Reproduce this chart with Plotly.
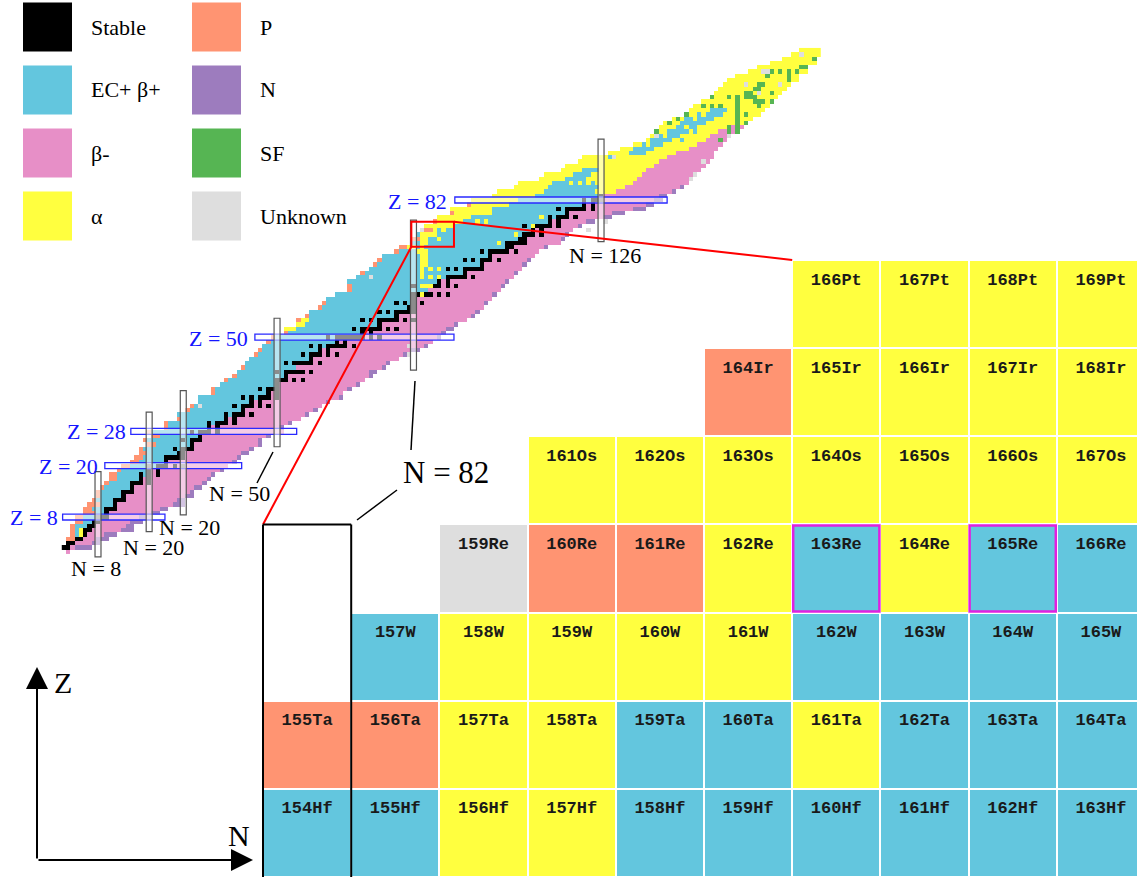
import plotly.graph_objects as go

# ---------------- data ----------------
MODES = ["Stable", "EC+ β+", "β-", "α", "P", "N", "SF", "Unknown"]
COLORS = ["#000000", "#63C6DE", "#E78FC7", "#FFFF3F", "#FF9472", "#9D7CBE", "#56B553", "#DEDEDE"]

# per proton number Z = 0..117 : first / last neutron number present in the chart
N_FIRST = [1, 0, 1, 1, 2, 2, 2, 3, 3, 5,
           5, 6, 7, 8, 8, 9, 10, 11, 11, 13,
           14, 16, 17, 18, 18, 20, 19, 21, 20, 24,
           24, 27, 27, 29, 30, 32, 32, 35, 35, 37,
           38, 40, 41, 42, 43, 44, 45, 46, 47, 48,
           49, 52, 52, 55, 55, 57, 58, 60, 61, 62,
           64, 67, 67, 67, 69, 70, 72, 73, 74, 75,
           78, 79, 82, 82, 83, 84, 85, 87, 88, 91,
           91, 95, 96, 101, 102, 106, 107, 112, 113, 117,
           118, 121, 122, 128, 131, 134, 137, 138, 139, 140,
           141, 143, 146, 147, 148, 150, 152, 153, 154, 155,
           156, 158, 161, 163, 166, 169, 171, 173]
N_LAST = [1, 6, 8, 10, 12, 16, 16, 18, 20, 22,
          24, 28, 28, 30, 30, 32, 33, 34, 35, 37,
          38, 40, 41, 43, 44, 46, 46, 48, 51, 51,
          53, 55, 57, 59, 60, 62, 65, 65, 67, 69,
          70, 72, 73, 75, 76, 78, 80, 83, 85, 86,
          88, 89, 91, 92, 94, 96, 97, 98, 99, 100,
          101, 102, 103, 104, 105, 106, 107, 108, 109, 110,
          111, 113, 116, 117, 118, 119, 121, 124, 128, 131,
          136, 138, 140, 141, 143, 145, 146, 147, 148, 149,
          150, 151, 152, 152, 153, 154, 155, 156, 157, 159,
          160, 161, 163, 164, 165, 166, 167, 168, 169, 170,
          172, 172, 174, 174, 176, 176, 177, 177]
# proton emitters at the proton-rich edge (count)
P_EDGE = [0, 0, 0, 2, 1, 1, 1, 2, 2, 3,
          2, 3, 1, 1, 1, 1, 1, 2, 2, 1,
          2, 2, 2, 2, 1, 2, 1, 2, 1, 1,
          1, 1, 0, 1, 1, 0, 0, 1, 1, 0,
          1, 1, 0, 1, 0, 0, 1, 1, 0, 1,
          1, 1, 0, 0, 1, 1, 0, 1, 1, 0,
          0, 1, 1, 0, 0, 1, 0, 1, 1, 0,
          1, 2, 0, 2, 0, 3, 0, 1, 0, 1,
          0, 1, 0]
# alpha emitters following them at the proton-rich edge (count), Z < 83
A_EDGE = [0] * 52 + [3, 2, 2] + [0] * 16 + [2, 0, 2, 0, 1, 7, 6, 8, 9, 10, 9, 11]
# first neutron number of the beta-minus region
BM_START = [0, 2, 3, 5, 6, 7, 8, 9, 11, 11,
            13, 13, 15, 15, 17, 17, 19, 19, 21, 21,
            25, 25, 29, 29, 31, 31, 33, 33, 35, 35,
            39, 39, 43, 43, 45, 45, 49, 49, 51, 51,
            53, 53, 57, 55, 59, 59, 61, 61, 67, 65,
            71, 71, 75, 75, 79, 79, 83, 83, 83, 83,
            87, 86, 89, 89, 95, 95, 99, 99, 101, 101,
            105, 106, 109, 109, 111, 111, 115, 115, 119, 119,
            123, 123, 127, 127, 130, 132, 134, 135, 136, 137,
            139, 140, 142, 144, 147, 149, 151, 152, 154, 156] + [999] * 18
# neutron emitters at the neutron-rich edge (count)
N_EDGE = [0, 4, 2, 3, 3, 3, 2, 3, 3, 2,
          2, 3, 2, 2, 1, 2, 1, 1, 1, 1,
          0, 1, 1, 2, 1, 1, 1, 1, 0, 1,
          1, 0, 1, 1, 0, 1, 1, 0, 1, 1,
          0, 1, 2, 1, 1, 0, 1, 2, 1, 0,
          1, 1, 2, 1, 0, 1, 1, 0, 1, 0,
          1, 0, 1, 1, 0, 1, 0, 1, 1, 0,
          0, 1, 0, 1, 1, 0, 1, 2, 2, 3,
          3, 2, 2, 2, 1, 1] + [0] * 32
STABLE = {
    1: [0, 1], 2: [1, 2], 3: [3, 4], 4: [5], 5: [5, 6], 6: [6, 7], 7: [7, 8], 8: [8, 9, 10],
    9: [10], 10: [10, 11, 12], 11: [12], 12: [12, 13, 14], 13: [14], 14: [14, 15, 16], 15: [16],
    16: [16, 17, 18, 20], 17: [18, 20], 18: [18, 20, 22], 19: [20, 22], 20: [20, 22, 23, 24, 26, 28],
    21: [24], 22: [24, 25, 26, 27, 28], 23: [27, 28], 24: [26, 28, 29, 30], 25: [30],
    26: [28, 30, 31, 32], 27: [32], 28: [30, 32, 33, 34, 36], 29: [34, 36], 30: [34, 36, 37, 38, 40],
    31: [38, 40], 32: [38, 40, 41, 42, 44], 33: [42], 34: [40, 42, 43, 44, 46, 48], 35: [44, 46],
    36: [42, 44, 46, 47, 48, 50], 37: [48, 50], 38: [46, 48, 49, 50], 39: [50],
    40: [50, 51, 52, 54, 56], 41: [52], 42: [50, 52, 53, 54, 55, 56, 58],
    44: [52, 54, 55, 56, 57, 58, 60], 45: [58], 46: [56, 58, 59, 60, 62, 64], 47: [60, 62],
    48: [58, 60, 62, 63, 64, 65, 66, 68], 49: [64, 66], 50: [62, 64, 65, 66, 67, 68, 69, 70, 72, 74],
    51: [70, 72], 52: [68, 70, 71, 72, 73, 74, 76, 78], 53: [74],
    54: [70, 72, 74, 75, 76, 77, 78, 80, 82], 55: [78], 56: [74, 76, 78, 79, 80, 81, 82],
    57: [81, 82], 58: [78, 80, 82, 84], 59: [82], 60: [82, 83, 84, 85, 86, 88, 90],
    62: [82, 85, 86, 87, 88, 90, 92], 63: [88, 90], 64: [88, 90, 91, 92, 93, 94, 96], 65: [94],
    66: [90, 92, 94, 95, 96, 97, 98], 67: [98], 68: [94, 96, 98, 99, 100, 102], 69: [100],
    70: [98, 100, 101, 102, 103, 104, 106], 71: [104, 105], 72: [102, 104, 105, 106, 107, 108],
    73: [107, 108], 74: [106, 108, 109, 110, 112], 75: [110, 112],
    76: [108, 110, 111, 112, 113, 114, 116], 77: [114, 116], 78: [112, 114, 116, 117, 118, 120],
    79: [118], 80: [116, 118, 119, 120, 121, 122, 124], 81: [122, 124], 82: [122, 124, 125, 126],
    83: [126],
}
# EC band inside the heavy (Z >= 83) alpha region: Z -> (first N, last N)
HEAVY_EC_BAND = {83: (111, 125), 84: (113, 124), 85: (114, 125), 86: (115, 124), 87: (118, 122),
                 88: (120, 123), 89: (122, 125), 93: (133, 136), 94: (134, 138), 95: (136, 140),
                 96: (138, 142), 97: (140, 144), 98: (142, 146), 99: (144, 148), 100: (145, 150),
                 101: (146, 152), 102: (149, 154), 103: (152, 155)}
ALPHA_DOTS = [(4, 4), (5, 4), (60, 84), (62, 84), (62, 85), (62, 86), (64, 84), (64, 86), (64, 88),
              (65, 84), (66, 84), (66, 86), (66, 88), (67, 84), (67, 85), (68, 84), (68, 85), (69, 84),
              (69, 85), (70, 83), (70, 84), (70, 85), (71, 84), (72, 84), (72, 85), (73, 88), (74, 84),
              (74, 85), (74, 86), (74, 87), (75, 89), (77, 97), (77, 99), (72, 102), (74, 106),
              (76, 110), (78, 112), (86, 119), (86, 121), (86, 123), (97, 141), (99, 146),
              (101, 148), (102, 150), (95, 137)]
EC_DOTS = [(92, 128), (93, 135), (96, 145), (98, 148)]
SF_DOTS = [(115, 176), (113, 173), (113, 174), (112, 166), (112, 168), (111, 170), (112, 170),
           (112, 172), (111, 165), (110, 170), (108, 163), (109, 163), (108, 162), (109, 164),
           (107, 166), (106, 160), (105, 162), (105, 164), (105, 166), (105, 163), (104, 163),
           (98, 158), (99, 158), (100, 158), (101, 158), (102, 158), (103, 158), (104, 158),
           (105, 158), (106, 158), (106, 156), (106, 152), (104, 150), (104, 154), (104, 152),
           (101, 144), (100, 142), (98, 139), (102, 146), (100, 160), (102, 160), (96, 154),
           (98, 156), (99, 156), (107, 160), (107, 161), (106, 161), (106, 162)]
UNKNOWN_DOTS = [(75, 84), (34, 32), (64, 72), (48, 81), (46, 81), (116, 173), (112, 164),
                (112, 165), (109, 160), (107, 163), (109, 168), (97, 139), (92, 129), (91, 150),
                (88, 148), (87, 147), (97, 156), (77, 127), (75, 123)]

# zoomed window of the chart
GRID_Z = [72, 73, 74, 75, 76, 77, 78]
GRID_SYMBOLS = ["Hf", "Ta", "W", "Re", "Os", "Ir", "Pt"]
GRID_N = [82, 83, 84, 85, 86, 87, 88, 89, 90, 91]
HIGHLIGHT = [(75, 88), (75, 90)]

# magic-number guides (value, from, to)
Z_GUIDES = [(8, -0.3, 23.7), (20, 9.6, 41.7), (28, 15.7, 54.6), (50, 44.8, 91.5), (82, 91.7, 141.5)]
N_GUIDES = [(8, -1.3, 18.6), (20, 4.6, 32.5), (28, 8.5, 37.5), (50, 24.4, 54.4), (82, 42.3, 77.3),
            (126, 72.3, 96.2)]
ZOOM_BOX = (81.5, 91.5, 71.1, 76.9)

# ---------------- build matrix ----------------
nZ = len(N_FIRST)
nN = max(N_LAST) + 1
M = [[None] * nN for _ in range(nZ)]
for Z in range(nZ):
    f, l = N_FIRST[Z], N_LAST[Z]
    st = set(STABLE.get(Z, []))
    pe = P_EDGE[Z] if Z < len(P_EDGE) else 0
    ae = A_EDGE[Z] if Z < len(A_EDGE) else 0
    for N in range(f, l + 1):
        k = N - f
        if N in st:
            c = 0
        elif Z < 83 and k < pe:
            c = 4
        elif Z < 83 and k < pe + ae and N < BM_START[Z]:
            c = 3
        elif N >= BM_START[Z]:
            c = 5 if N > l - N_EDGE[Z] else 2
        elif Z >= 83:
            lo, hi = HEAVY_EC_BAND.get(Z, (0, -1))
            c = 1 if lo <= N <= hi else 3
        else:
            c = 1
        M[Z][N] = c
for lst, code in ((ALPHA_DOTS, 3), (EC_DOTS, 1), (SF_DOTS, 6), (UNKNOWN_DOTS, 7)):
    for Z, N in lst:
        if 0 <= Z < nZ and 0 <= N < nN:
            M[Z][N] = code

cs = []
for i, c in enumerate(COLORS):
    cs += [[i / len(COLORS), c], [(i + 1) / len(COLORS), c]]

W, H = 1137, 877
# main chart axes (cell size ~4.27 px)
X0, X1 = -14.99, 251.72
Y0, Y1 = -76.03, 128.69
# zoom grid axes
GD_X = (263 / W, 1.0)
GD_Y = (0.0, (H - 260) / H)
G_X0, G_X1 = 81.5, 81.5 + (W - 263) / 88.2
G_Y0, G_Y1 = 71.5, 78.5


def mpx(n):
    return (n - X0) / (X1 - X0)


def mpy(z):
    return (z - Y0) / (Y1 - Y0)


def gpx(n):
    return GD_X[0] + (n - G_X0) / (G_X1 - G_X0) * (GD_X[1] - GD_X[0])


def gpy(z):
    return GD_Y[0] + (z - G_Y0) / (G_Y1 - G_Y0) * (GD_Y[1] - GD_Y[0])


def px(x):
    return x / W


def py(y):
    return 1 - y / H


fig = go.Figure()
fig.add_trace(go.Heatmap(z=M, x=list(range(nN)), y=list(range(nZ)), colorscale=cs, zmin=-0.5,
                         zmax=len(COLORS) - 0.5, showscale=False, hoverinfo="skip",
                         xaxis="x", yaxis="y"))
gz = [[M[Z][N] for N in GRID_N] for Z in GRID_Z]
fig.add_trace(go.Heatmap(z=gz, x=GRID_N, y=GRID_Z, colorscale=cs, zmin=-0.5,
                         zmax=len(COLORS) - 0.5, showscale=False, hoverinfo="skip",
                         xgap=2, ygap=2, xaxis="x2", yaxis="y2"))
tx, ty, tt = [], [], []
for Z, sym in zip(GRID_Z, GRID_SYMBOLS):
    for N in GRID_N:
        if M[Z][N] is not None:
            tx.append(N)
            ty.append(Z + 0.27)
            tt.append(f"{Z + N}{sym}")
fig.add_trace(go.Scatter(x=tx, y=ty, text=tt, mode="text", xaxis="x2", yaxis="y2",
                         textfont=dict(family="Liberation Mono", size=17, color="#1a1a1a",
                                       weight="bold"),
                         hoverinfo="skip", cliponaxis=False))

shapes = []
for z, a, b in Z_GUIDES:
    shapes.append(dict(type="rect", xref="x", yref="y", x0=a, x1=b, y0=z - 0.7, y1=z + 0.7,
                       line=dict(color="#2a2aff", width=1.3), fillcolor="rgba(255,255,255,0.55)"))
for n, a, b in N_GUIDES:
    shapes.append(dict(type="rect", xref="x", yref="y", x0=n - 0.7, x1=n + 0.7, y0=a, y1=b,
                       line=dict(color="#555555", width=1.2), fillcolor="rgba(255,255,255,0.55)"))
bx0, bx1, by0, by1 = ZOOM_BOX
shapes.append(dict(type="rect", xref="x", yref="y", x0=bx0, x1=bx1, y0=by0, y1=by1,
                   line=dict(color="#ff0000", width=2)))
# connector lines from zoom box to grid
shapes.append(dict(type="line", xref="paper", yref="paper", x0=mpx(bx1), y0=mpy(by1),
                   x1=gpx(87.5), y1=gpy(78.5), line=dict(color="#ff0000", width=2)))
shapes.append(dict(type="line", xref="paper", yref="paper", x0=mpx(bx0), y0=mpy(by0),
                   x1=gpx(81.5), y1=gpy(75.5), line=dict(color="#ff0000", width=2)))
# N = 82 column outline in the grid
for (xa, ya, xb, yb) in [(81.5, 75.5, 81.5, 71.3), (82.5, 75.5, 82.5, 71.3), (81.5, 75.5, 82.5, 75.5)]:
    shapes.append(dict(type="line", xref="paper", yref="paper", x0=gpx(xa), y0=gpy(ya), x1=gpx(xb),
                       y1=max(gpy(yb), 0), line=dict(color="#000000", width=2)))
for Z, N in HIGHLIGHT:
    shapes.append(dict(type="rect", xref="paper", yref="paper", x0=gpx(N - 0.5) + 1 / W,
                       x1=gpx(N + 0.5) - 1 / W, y0=gpy(Z - 0.5) + 1 / H, y1=gpy(Z + 0.5) - 1 / H,
                       line=dict(color="#E020E0", width=2.5)))
# label connectors
for (xa, ya, xb, yb) in [(257, 483, 273, 452), (411, 450, 415, 381), (357, 520, 397, 490)]:
    shapes.append(dict(type="line", xref="paper", yref="paper", x0=px(xa), y0=py(ya), x1=px(xb),
                       y1=py(yb), line=dict(color="#000000", width=1.5)))
# legend swatches
LEG_X = [(23, 72), (192, 241)]
LEG_Y = [27, 90, 153, 216]
annotations = []
for i, name in enumerate(MODES):
    col, row = divmod(i, 4)
    xa, xb = LEG_X[col]
    yc = LEG_Y[row]
    shapes.append(dict(type="rect", xref="paper", yref="paper", x0=px(xa), x1=px(xb),
                       y0=py(yc + 24.5), y1=py(yc - 24.5), line=dict(width=0), fillcolor=COLORS[i]))
    annotations.append(dict(x=px(xb + 17), y=py(yc), xref="paper", yref="paper", text=name,
                            showarrow=False, xanchor="left", yanchor="middle",
                            font=dict(family="Liberation Serif", size=22, color="#000000")))

for text, xr, yc in [("Z = 8", 60, 517.5), ("Z = 20", 100, 466), ("Z = 28", 128, 431.5),
                     ("Z = 50", 250, 338.5), ("Z = 82", 449, 201)]:
    annotations.append(dict(x=px(xr), y=py(yc), xref="paper", yref="paper", text=text,
                            showarrow=False, xanchor="right", yanchor="middle",
                            font=dict(family="Liberation Serif", size=22, color="#1515ff")))
for text, xc, yc, sz in [("N = 8", 96, 568, 22), ("N = 20", 153, 547, 22), ("N = 20", 189.5, 527, 22),
                         ("N = 50", 239.5, 493, 22), ("N = 126", 605, 255, 22), ("N = 82", 446, 472, 31)]:
    annotations.append(dict(x=px(xc), y=py(yc), xref="paper", yref="paper", text=text,
                            showarrow=False, xanchor="center", yanchor="middle",
                            font=dict(family="Liberation Serif", size=sz, color="#000000")))
# axis arrows
annotations.append(dict(x=px(37), y=py(667), xref="paper", yref="paper", text="", showarrow=True,
                        ax=0, ay=193, arrowhead=2, arrowsize=2.2, arrowwidth=2, arrowcolor="#000000"))
annotations.append(dict(x=px(253), y=py(860), xref="paper", yref="paper", text="", showarrow=True,
                        ax=-216, ay=0, arrowhead=2, arrowsize=2.2, arrowwidth=2, arrowcolor="#000000"))
annotations.append(dict(x=px(63), y=py(682), xref="paper", yref="paper", text="Z", showarrow=False,
                        xanchor="center", yanchor="middle",
                        font=dict(family="Liberation Serif", size=30, color="#000000")))
annotations.append(dict(x=px(239), y=py(835), xref="paper", yref="paper", text="N", showarrow=False,
                        xanchor="center", yanchor="middle",
                        font=dict(family="Liberation Serif", size=30, color="#000000")))

fig.update_layout(
    width=W, height=H, margin=dict(l=0, r=0, t=0, b=0),
    paper_bgcolor="#ffffff", plot_bgcolor="rgba(0,0,0,0)", showlegend=False,
    xaxis=dict(domain=[0, 1], range=[X0, X1], visible=False, fixedrange=True),
    yaxis=dict(domain=[0, 1], range=[Y0, Y1], visible=False, fixedrange=True),
    xaxis2=dict(domain=list(GD_X), range=[G_X0, G_X1], visible=False, anchor="y2", fixedrange=True),
    yaxis2=dict(domain=list(GD_Y), range=[G_Y0, G_Y1], visible=False, anchor="x2", fixedrange=True),
    shapes=shapes, annotations=annotations,
)
fig.write_html("out.html", config={"displayModeBar": False},
               post_script="document.body.style.margin='0';")
